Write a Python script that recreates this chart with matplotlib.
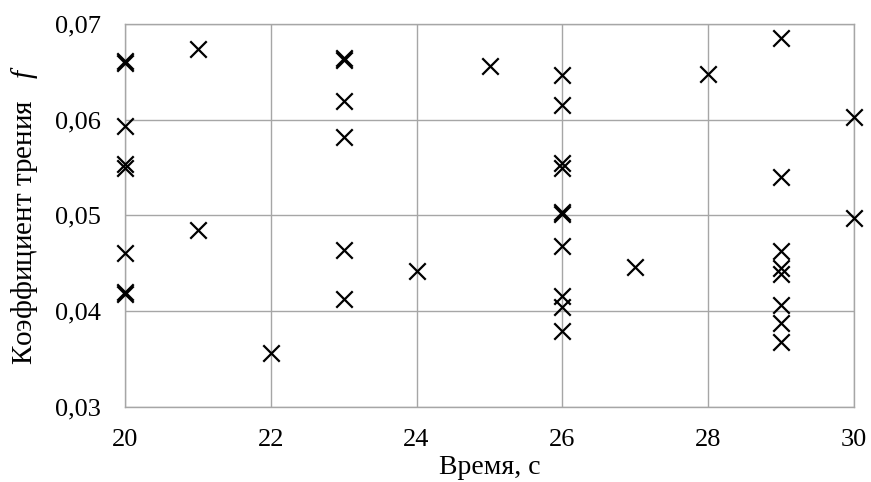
import matplotlib
matplotlib.use("Agg")
import matplotlib.pyplot as plt
from matplotlib.ticker import FuncFormatter

plt.rcParams["font.family"] = ["Liberation Serif", "DejaVu Serif"]
plt.rcParams["mathtext.fontset"] = "custom"
plt.rcParams["mathtext.it"] = "Liberation Serif:italic"
plt.rcParams["mathtext.rm"] = "Liberation Serif"

# Measurements: time (s) and friction coefficient
time_s = [20, 20, 20, 20, 20, 20, 20, 20,
          21, 21,
          22,
          23, 23, 23, 23, 23, 23,
          24,
          25,
          26, 26, 26, 26, 26, 26, 26, 26, 26, 26,
          27,
          28,
          29, 29, 29, 29, 29, 29, 29, 29,
          30, 30]
friction = [0.0661, 0.0659, 0.0593, 0.0554, 0.0550, 0.0461, 0.0420, 0.0418,
            0.0674, 0.0485,
            0.0356,
            0.0664, 0.0662, 0.0620, 0.0582, 0.0464, 0.0413,
            0.0442,
            0.0656,
            0.0647, 0.0615, 0.0555, 0.0549, 0.0503, 0.0501, 0.0468, 0.0416, 0.0404, 0.0379,
            0.0446,
            0.0648,
            0.0685, 0.0540, 0.0463, 0.0445, 0.0439, 0.0406, 0.0387, 0.0368,
            0.0603, 0.0497]

x_ticks = [20, 22, 24, 26, 28, 30]
y_ticks = [0.03, 0.04, 0.05, 0.06, 0.07]

fig = plt.figure(figsize=(8.71, 4.82), dpi=100)
ax = fig.add_axes([0.1432, 0.1562, 0.8376, 0.794])

ax.scatter(time_s, friction, marker="x", s=140, color="black",
           linewidths=1.6, zorder=3, clip_on=False)

ax.set_xlim(20, 30)
ax.set_ylim(0.03, 0.07)
ax.set_xticks(x_ticks)
ax.set_yticks(y_ticks)
ax.yaxis.set_major_formatter(FuncFormatter(lambda v, p: f"{v:.2f}".replace(".", ",")))
ax.grid(True, color="#a6a6a6", linewidth=1.0)
ax.set_axisbelow(True)
for sp in ax.spines.values():
    sp.set_color("#a6a6a6")
    sp.set_linewidth(1.0)
ax.tick_params(length=0, labelsize=19, pad=17)
ax.tick_params(axis="x", pad=16)

ax.set_xlabel("Время, с", fontsize=20, labelpad=3)
ax.set_ylabel("Коэффициент трения   $f$", fontsize=21, labelpad=11)

fig.savefig("out.png", dpi=100)
